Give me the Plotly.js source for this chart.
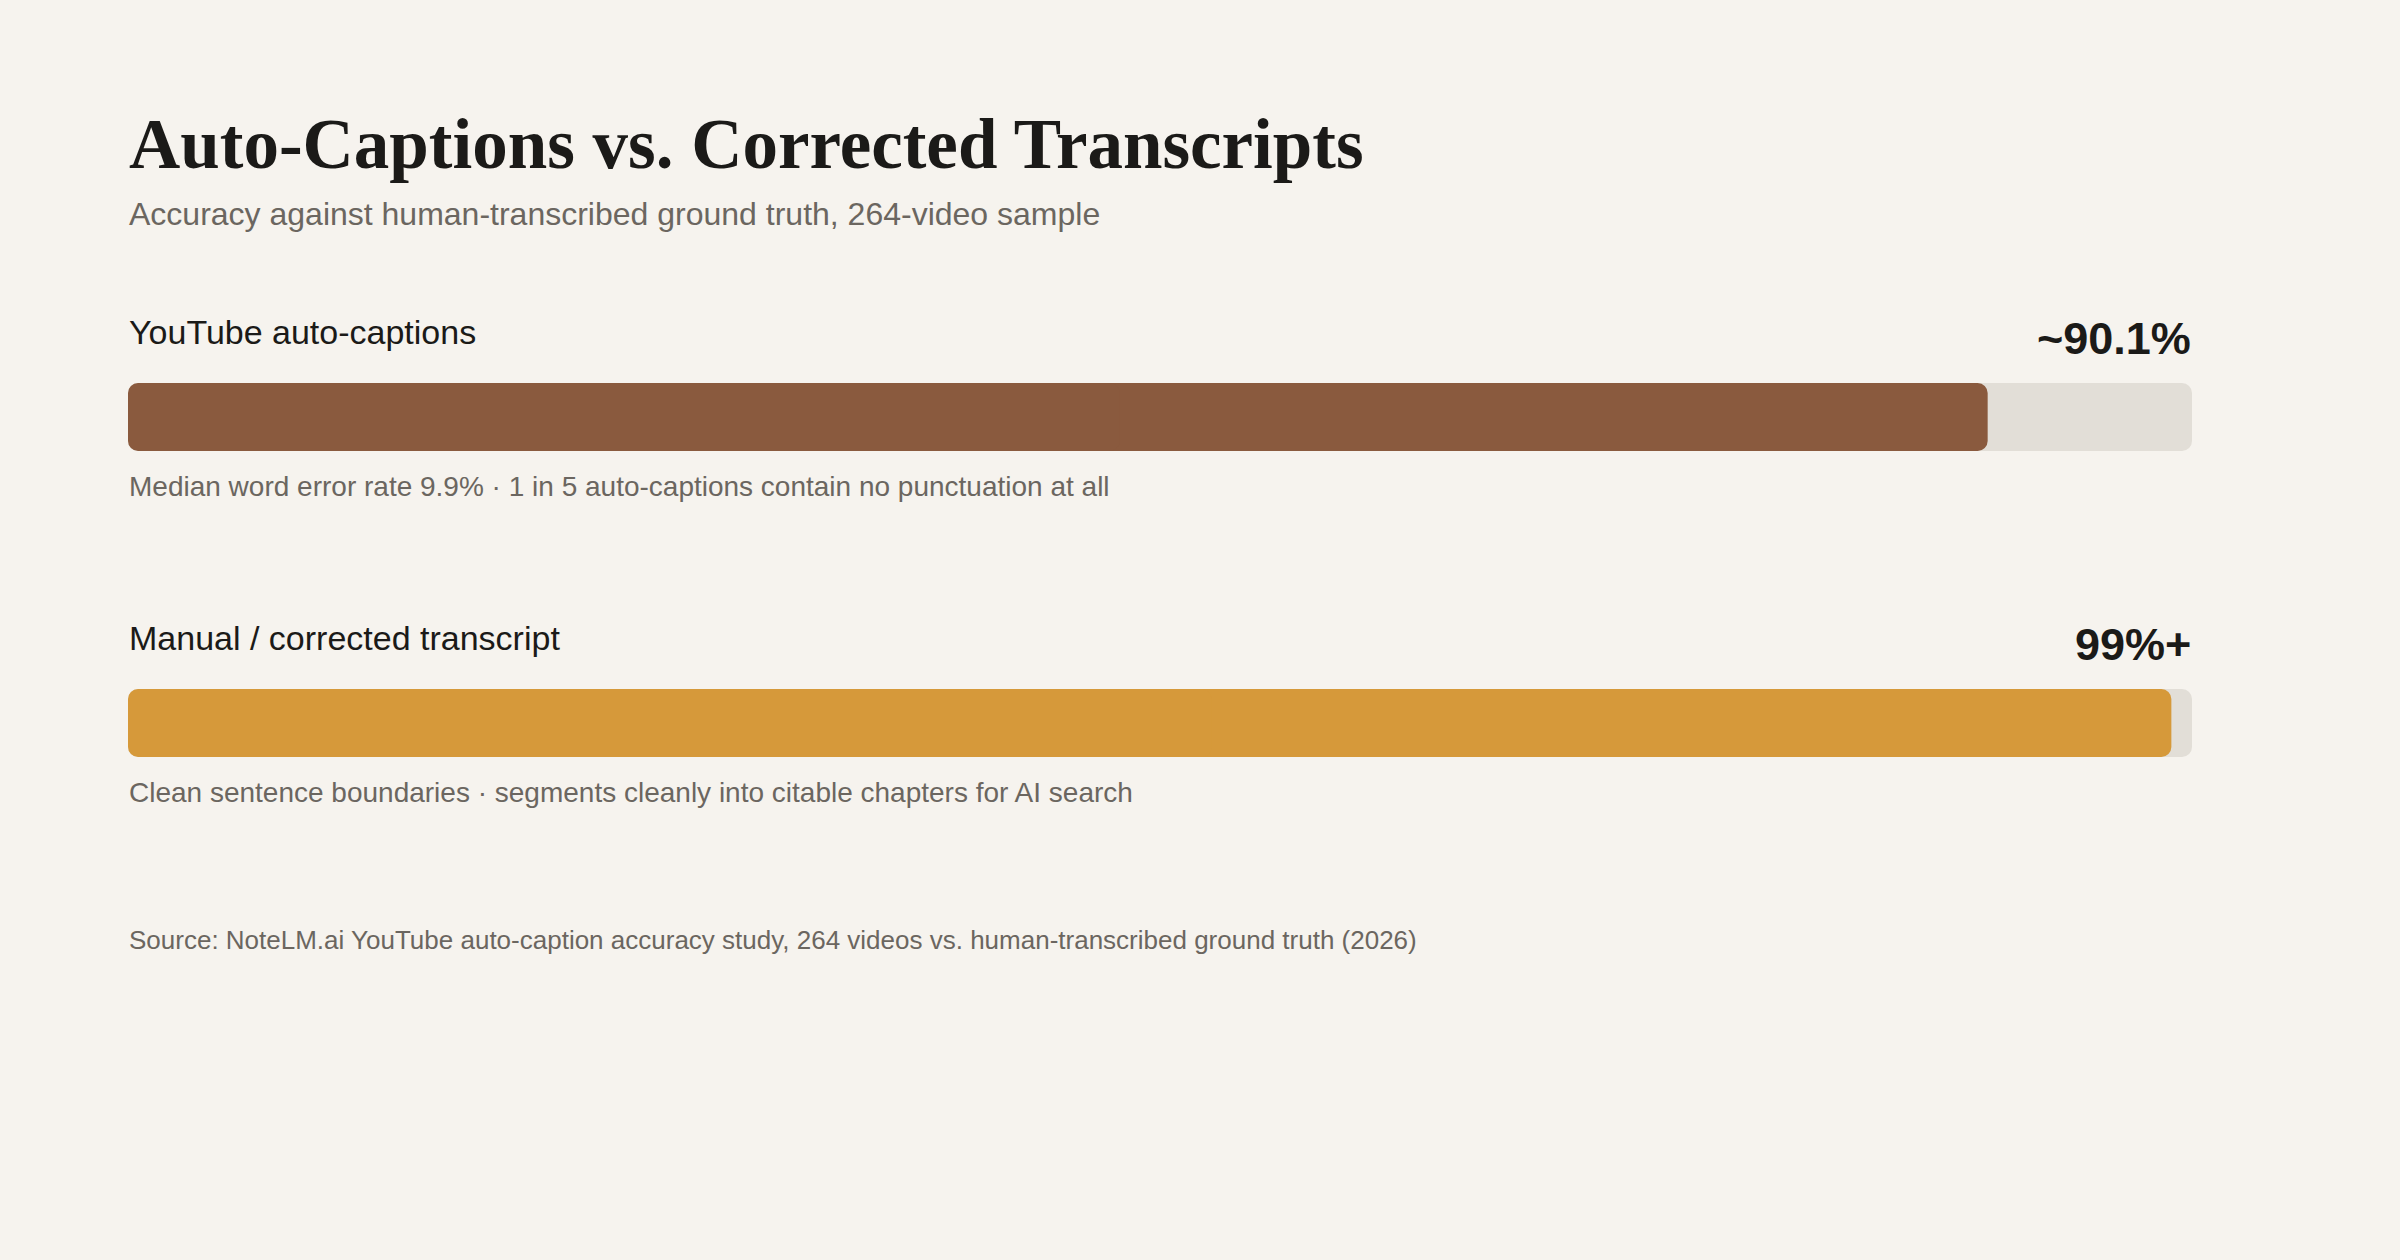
<!DOCTYPE html>
<html>
<head>
<meta charset="utf-8">
<script src="https://cdn.plot.ly/plotly-3.0.1.min.js"></script>
<style>
html,body{margin:0;padding:0;background:#f6f3ee;}
#chart{width:2400px;height:1260px;}
</style>
</head>
<body>
<div id="chart"></div>
<script>
// ---- data ----
const categories = ["YouTube auto-captions", "Manual / corrected transcript"];
const accuracy = [90.1, 99];
const valueLabels = ["~90.1%", "99%+"];
const notes = [
  "Median word error rate 9.9% \u00b7 1 in 5 auto-captions contain no punctuation at all",
  "Clean sentence boundaries \u00b7 segments cleanly into citable chapters for AI search"
];
const trackMax = [100, 100];
const titleText = "Auto-Captions vs. Corrected Transcripts";
const subtitleText = "Accuracy against human-transcribed ground truth, 264-video sample";
const sourceText = "Source: NoteLM.ai YouTube auto-caption accuracy study, 264 videos vs. human-transcribed ground truth (2026)";

// ---- layout constants (pixel space) ----
const W = 2400, H = 1260;
const LEFT = 128, RIGHT = 2192;
const BAR_C0 = 417, ROW_STEP = 306, BAR_H = 68;
const fillColors = ["#8a5a3e", "#d6993a"];
const trackColor = "#e2ded7";
const bg = "#f6f3ee";
const sans = "Liberation Sans, Arial, Helvetica, sans-serif";
const serif = "Liberation Serif, Georgia, serif";

const yc = categories.map((_, i) => BAR_C0 + i * ROW_STEP);
const widths = categories.map(() => BAR_H);
const OVERLAP = 3;

// Each bar is drawn as two halves growing out from its midpoint so that
// both ends get rounded corners; the left half overlaps the right one.
function roundedBar(values, colors) {
  const mids = values.map(v => v / 2);
  return [
    {type: "bar", orientation: "h", base: mids, x: mids, y: yc, width: widths,
     marker: {color: colors, cornerradius: 10, line: {width: 0}},
     hoverinfo: "skip", showlegend: false},
    {type: "bar", orientation: "h", base: mids.map(m => m + OVERLAP), x: mids.map(m => -(m + OVERLAP)), y: yc, width: widths,
     marker: {color: colors, cornerradius: 10, line: {width: 0}},
     hoverinfo: "skip", showlegend: false}
  ];
}

const traces = [
  ...roundedBar(trackMax, categories.map(() => trackColor)),
  ...roundedBar(accuracy, fillColors)
];

const ann = [];
ann.push({xref: "x", yref: "y", x: 0, y: 144, xanchor: "left", yanchor: "middle",
  text: "<b>" + titleText + "</b>", showarrow: false,
  font: {family: serif, size: 71, color: "#1b1a18"}});
ann.push({xref: "x", yref: "y", x: 0, y: 214, xanchor: "left", yanchor: "middle",
  text: subtitleText, showarrow: false,
  font: {family: sans, size: 32, color: "#6b6660"}});
categories.forEach((c, i) => {
  const off = i * ROW_STEP;
  ann.push({xref: "x", yref: "y", x: 0, y: 332 + off, xanchor: "left", yanchor: "middle",
    text: c, showarrow: false, font: {family: sans, size: 34, color: "#1b1a18"}});
  ann.push({xref: "x", yref: "y", x: 100, y: 338 + off, xanchor: "right", yanchor: "middle",
    text: "<b>" + valueLabels[i] + "</b>", showarrow: false,
    font: {family: sans, size: 45, color: "#1b1a18"}});
  ann.push({xref: "x", yref: "y", x: 0, y: 486 + off, xanchor: "left", yanchor: "middle",
    text: notes[i], showarrow: false, font: {family: sans, size: 28, color: "#6b6660"}});
});
ann.push({xref: "x", yref: "y", x: 0, y: 940, xanchor: "left", yanchor: "middle",
  text: sourceText, showarrow: false, font: {family: sans, size: 26, color: "#6b6660"}});
ann.forEach(a => { a.borderpad = 0; });

const layout = {
  width: W, height: H,
  paper_bgcolor: bg, plot_bgcolor: bg,
  margin: {l: 0, r: 0, t: 0, b: 0, pad: 0},
  barmode: "overlay",
  showlegend: false,
  xaxis: {domain: [LEFT / W, RIGHT / W], range: [0, 100], visible: false, fixedrange: true},
  yaxis: {domain: [0, 1], range: [H, 0], visible: false, fixedrange: true},
  annotations: ann
};

Plotly.newPlot("chart", traces, layout, {displayModeBar: false, staticPlot: true});
</script>
</body>
</html>
